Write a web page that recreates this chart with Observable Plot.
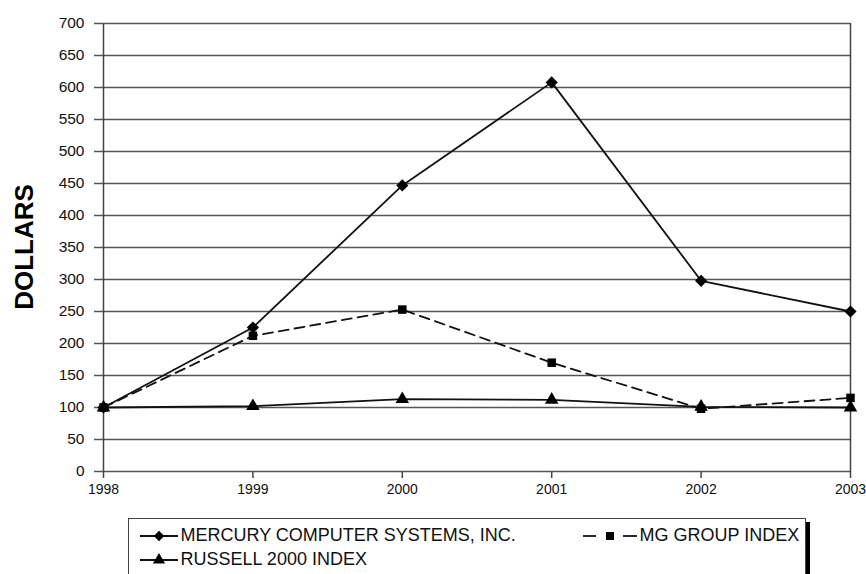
<!DOCTYPE html>
<html>
<head>
<meta charset="utf-8">
<script src="https://cdn.jsdelivr.net/npm/d3@7"></script>
<script src="https://cdn.jsdelivr.net/npm/@observablehq/plot@0.6"></script>
<style>
  html, body { margin: 0; padding: 0; background: #fff; }
  body { width: 866px; height: 574px; position: relative; overflow: hidden; font-family: "Liberation Sans", Arial, sans-serif; color: #111; }
  #chart { position: absolute; left: 0; top: 0; }
  #ylabel { position: absolute; left: 24px; top: 247px; transform: translate(-50%, -50%) rotate(-90deg); font-size: 26px; font-weight: bold; color: #000; white-space: nowrap; line-height: 1; }
  #legend { position: absolute; left: 128px; top: 518px; width: 678px; height: 64px; border: 1.5px solid #444; box-sizing: border-box; box-shadow: 4px 4px 0 #000; background: #fff; font-size: 18px; }
  .item { position: absolute; display: flex; align-items: center; white-space: nowrap; }
  .item svg { display: block; margin-right: 3px; }
</style>
</head>
<body>
<div id="chart"></div>
<div id="ylabel"></div>
<div id="legend"></div>
<script>
const years = [1998, 1999, 2000, 2001, 2002, 2003];
const mercury = [100, 225, 447, 608, 298, 250];
const mgGroup = [100, 212, 253, 170, 98, 115];
const russell = [100, 102, 113, 112, 101, 100];
const yTicks = [0, 50, 100, 150, 200, 250, 300, 350, 400, 450, 500, 550, 600, 650, 700];
const seriesNames = ["MERCURY COMPUTER SYSTEMS, INC.", "MG GROUP INDEX", "RUSSELL 2000 INDEX"];
const yLabel = "DOLLARS";

const toRows = (vals) => years.map((yr, i) => ({year: yr, value: vals[i]}));
const mRows = toRows(mercury), gRows = toRows(mgGroup), rRows = toRows(russell);

const chart = Plot.plot({
  width: 866,
  height: 505,
  marginLeft: 103,
  marginRight: 16,
  marginTop: 23,
  marginBottom: 34,
  style: {fontFamily: "'Liberation Sans', Arial, sans-serif", color: "#111", background: "#fff"},
  x: {type: "linear", domain: [1998, 2003]},
  y: {domain: [0, 700]},
  marks: [
    Plot.ruleY(yTicks, {x1: 1998, x2: 2003, stroke: "#555", strokeWidth: 1.5}),
    Plot.ruleX([1998, 2003], {y1: 0, y2: 700, stroke: "#444", strokeWidth: 1.5}),
    Plot.axisY({ticks: yTicks, tickSize: 9, tickPadding: 10, fontSize: 15.5, stroke: "#555", strokeWidth: 1.5, label: null}),
    Plot.axisX({ticks: years, tickSize: 7, tickPadding: 6, fontSize: 14, tickFormat: d => String(d), stroke: "#444", strokeWidth: 1.5, label: null}),
    Plot.line(rRows, {x: "year", y: "value", stroke: "#111", strokeWidth: 1.8}),
    Plot.line(gRows, {x: "year", y: "value", stroke: "#111", strokeWidth: 1.8, strokeDasharray: "10,6"}),
    Plot.line(mRows, {x: "year", y: "value", stroke: "#111", strokeWidth: 1.8}),
    Plot.dot(rRows, {x: "year", y: "value", symbol: "triangle", r: 5, fill: "#000"}),
    Plot.dot(gRows, {x: "year", y: "value", symbol: "square", r: 4.8, fill: "#000"}),
    Plot.dot(mRows, {x: "year", y: "value", symbol: "diamond2", r: 5.5, fill: "#000"})
  ]
});
document.getElementById("chart").appendChild(chart);
document.getElementById("ylabel").textContent = yLabel;

// Legend
function legendItem(left, top, dashed, symType, symSize, text) {
  const div = document.createElement("div");
  div.className = "item";
  div.style.left = left + "px";
  div.style.top = top + "px";
  const w = dashed ? 54 : 38, h = 18;
  const svg = d3.create("svg").attr("width", w).attr("height", h);
  if (dashed) {
    svg.append("line").attr("x1", 0).attr("x2", 13).attr("y1", h / 2).attr("y2", h / 2).attr("stroke", "#111").attr("stroke-width", 1.8);
    svg.append("line").attr("x1", 40).attr("x2", 54).attr("y1", h / 2).attr("y2", h / 2).attr("stroke", "#111").attr("stroke-width", 1.8);
  } else {
    svg.append("line").attr("x1", 0).attr("x2", w).attr("y1", h / 2).attr("y2", h / 2).attr("stroke", "#111").attr("stroke-width", 1.8);
  }
  svg.append("path").attr("d", d3.symbol(symType, symSize)())
    .attr("transform", `translate(${dashed ? 27 : 19},${h / 2})`).attr("fill", "#000");
  div.appendChild(svg.node());
  const span = document.createElement("span");
  span.textContent = text;
  div.appendChild(span);
  document.getElementById("legend").appendChild(div);
}
legendItem(10.5, 6, false, d3.symbolDiamond2, 70, seriesNames[0]);
legendItem(453.5, 6, true, d3.symbolSquare, 64, seriesNames[1]);
legendItem(10.5, 30, false, d3.symbolTriangle, 64, seriesNames[2]);
</script>
</body>
</html>
